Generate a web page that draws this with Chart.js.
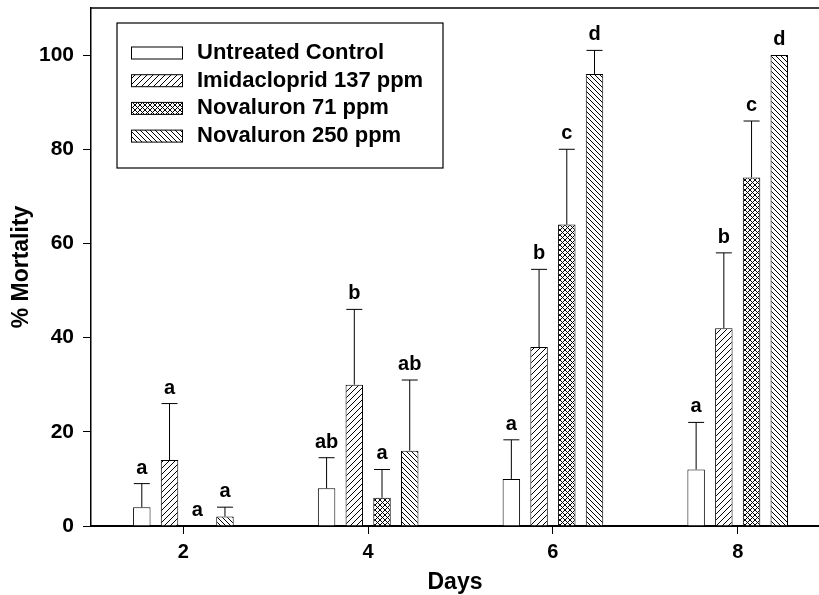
<!DOCTYPE html>
<html>
<head>
<meta charset="utf-8">
<script src="https://cdn.jsdelivr.net/npm/chart.js@4.4.1/dist/chart.umd.min.js"></script>
<style>
  html, body { margin: 0; padding: 0; background: #fff; overflow: hidden; }
  #wrap { width: 819px; height: 595px; }
</style>
</head>
<body>
<div id="wrap"><canvas id="bars"></canvas></div>
<script>
const days = [2, 4, 6, 8]
const seriesNames = ['Untreated Control', 'Imidacloprid 137 ppm', 'Novaluron 71 ppm', 'Novaluron 250 ppm']

// mean % mortality per day
const control = [4, 8, 10, 12]
const imidacloprid = [14, 30, 38, 42]
const novaluron71 = [0, 6, 64, 74]
const novaluron250 = [2, 16, 96, 100]

// top of the (upper) error bar
const controlErr = [9, 14.5, 18.3, 22]
const imidaclopridErr = [26, 46, 54.5, 58]
const novaluron71Err = [0, 12, 80, 86]
const novaluron250Err = [4, 31, 101, 100]

// mean separation letters
const controlLetters = ['a', 'ab', 'a', 'a']
const imidaclopridLetters = ['a', 'b', 'b', 'b']
const novaluron71Letters = ['a', 'a', 'c', 'c']
const novaluron250Letters = ['a', 'ab', 'd', 'd']

const yTicks = [0, 20, 40, 60, 80, 100]

const FONT = 'Liberation Sans, Arial, Helvetica, sans-serif'

// small tiles used as bar fills
function hatch(kind, s) {
  const c = document.createElement('canvas')
  c.width = s
  c.height = s
  const g = c.getContext('2d')
  g.fillStyle = '#fff'
  g.fillRect(0, 0, s, s)
  g.strokeStyle = '#000'
  g.lineWidth = 1
  g.beginPath()
  if (kind === 'fwd' || kind === 'cross') {
    g.moveTo(-1, s + 1); g.lineTo(s + 1, -1)
    g.moveTo(-1, 1); g.lineTo(1, -1)
    g.moveTo(s - 1, s + 1); g.lineTo(s + 1, s - 1)
  }
  if (kind === 'back' || kind === 'cross') {
    g.moveTo(-1, -1); g.lineTo(s + 1, s + 1)
    g.moveTo(-1, s - 1); g.lineTo(1, s + 1)
    g.moveTo(s - 1, -1); g.lineTo(s + 1, 1)
  }
  g.stroke()
  return g.createPattern(c, 'repeat')
}

const fills = ['#ffffff', hatch('fwd', 6), hatch('cross', 5), hatch('back', 5)]
const values = [control, imidacloprid, novaluron71, novaluron250]
const errs = [controlErr, imidaclopridErr, novaluron71Err, novaluron250Err]
const letters = [controlLetters, imidaclopridLetters, novaluron71Letters, novaluron250Letters]

// upper error bars + letters
const errorBars = {
  id: 'errorBars',
  afterDatasetsDraw(chart) {
    const { ctx, scales: { y } } = chart
    ctx.save()
    ctx.strokeStyle = '#000'
    ctx.fillStyle = '#000'
    ctx.lineWidth = 1
    ctx.font = 'bold 20px ' + FONT
    ctx.textAlign = 'center'
    ctx.textBaseline = 'alphabetic'
    chart.data.datasets.forEach((ds, di) => {
      chart.getDatasetMeta(di).data.forEach((bar, i) => {
        let top = y.getPixelForValue(values[di][i])
        if (errs[di][i] > values[di][i]) {
          const yt = y.getPixelForValue(errs[di][i])
          ctx.beginPath()
          ctx.moveTo(bar.x, top)
          ctx.lineTo(bar.x, yt)
          ctx.moveTo(bar.x - 8, yt)
          ctx.lineTo(bar.x + 8, yt)
          ctx.stroke()
          top = yt
        }
        ctx.fillText(letters[di][i], bar.x, top - 10)
      })
    })
    ctx.restore()
  }
}

// frame top line and boxed legend inside the plot
const frameAndLegend = {
  id: 'frameAndLegend',
  afterDraw(chart) {
    const { ctx, chartArea: a } = chart
    ctx.save()
    ctx.strokeStyle = '#000'
    ctx.lineWidth = 1.5
    ctx.beginPath()
    ctx.moveTo(a.left, a.top)
    ctx.lineTo(a.right, a.top)
    ctx.stroke()

    ctx.lineWidth = 1.2
    ctx.fillStyle = '#fff'
    ctx.fillRect(117, 23, 326, 145)
    ctx.strokeRect(117, 23, 326, 145)
    ctx.font = 'bold 22px ' + FONT
    ctx.textBaseline = 'middle'
    ctx.lineWidth = 1
    chart.data.datasets.forEach((ds, i) => {
      const cy = 53 + i * 27.7
      ctx.fillStyle = ds.backgroundColor
      ctx.fillRect(131, cy - 6, 51, 12)
      ctx.strokeRect(131.5, cy - 6, 51, 12)
      ctx.fillStyle = '#000'
      ctx.fillText(ds.label, 197, cy)
    })
    ctx.restore()
  }
}

new Chart(document.getElementById('bars'), {
  type: 'bar',
  data: {
    datasets: seriesNames.map((name, i) => ({
      label: name,
      data: days.map((d, j) => ({ x: d, y: values[i][j] })),
      backgroundColor: fills[i],
      borderColor: '#000',
      borderWidth: 1,
      categoryPercentage: 0.6,
      barPercentage: 0.63
    }))
  },
  options: {
    responsive: true,
    maintainAspectRatio: false,
    animation: false,
    layout: { padding: { top: 8, right: 0, left: 0, bottom: 0 } },
    plugins: {
      legend: { display: false },
      tooltip: { enabled: false }
    },
    scales: {
      x: {
        type: 'linear',
        offset: false,
        min: 1,
        max: 8.88,
        afterBuildTicks: s => { s.ticks = days.map(v => ({ value: v })) },
        afterFit: s => { s.height = 69; s.paddingLeft = 0; s.paddingRight = 0 },
        grid: { offset: false, drawOnChartArea: false, tickLength: 8, color: '#000', lineWidth: 1 },
        border: { color: '#000', width: 2 },
        ticks: { color: '#000', padding: 6, font: { family: FONT, size: 20, weight: 'bold' } },
        title: {
          display: true,
          text: 'Days',
          color: '#000',
          padding: { top: 0, bottom: 1 },
          font: { family: FONT, size: 23, weight: 'bold', lineHeight: 1 }
        }
      },
      y: {
        min: 0,
        max: 110,
        afterBuildTicks: s => { s.ticks = yTicks.map(v => ({ value: v })) },
        afterFit: s => { s.width = 91; s.paddingTop = 0; s.paddingBottom = 0 },
        grid: { drawOnChartArea: false, tickLength: 8, color: '#000', lineWidth: 1 },
        border: { color: '#000', width: 1.5 },
        ticks: { color: '#000', padding: 9, font: { family: FONT, size: 21, weight: 'bold' } },
        title: {
          display: true,
          text: '% Mortality',
          color: '#000',
          padding: { top: 10, bottom: 0 },
          font: { family: FONT, size: 23, weight: 'bold', lineHeight: 1 }
        }
      }
    }
  },
  plugins: [errorBars, frameAndLegend]
})
</script>
</body>
</html>
